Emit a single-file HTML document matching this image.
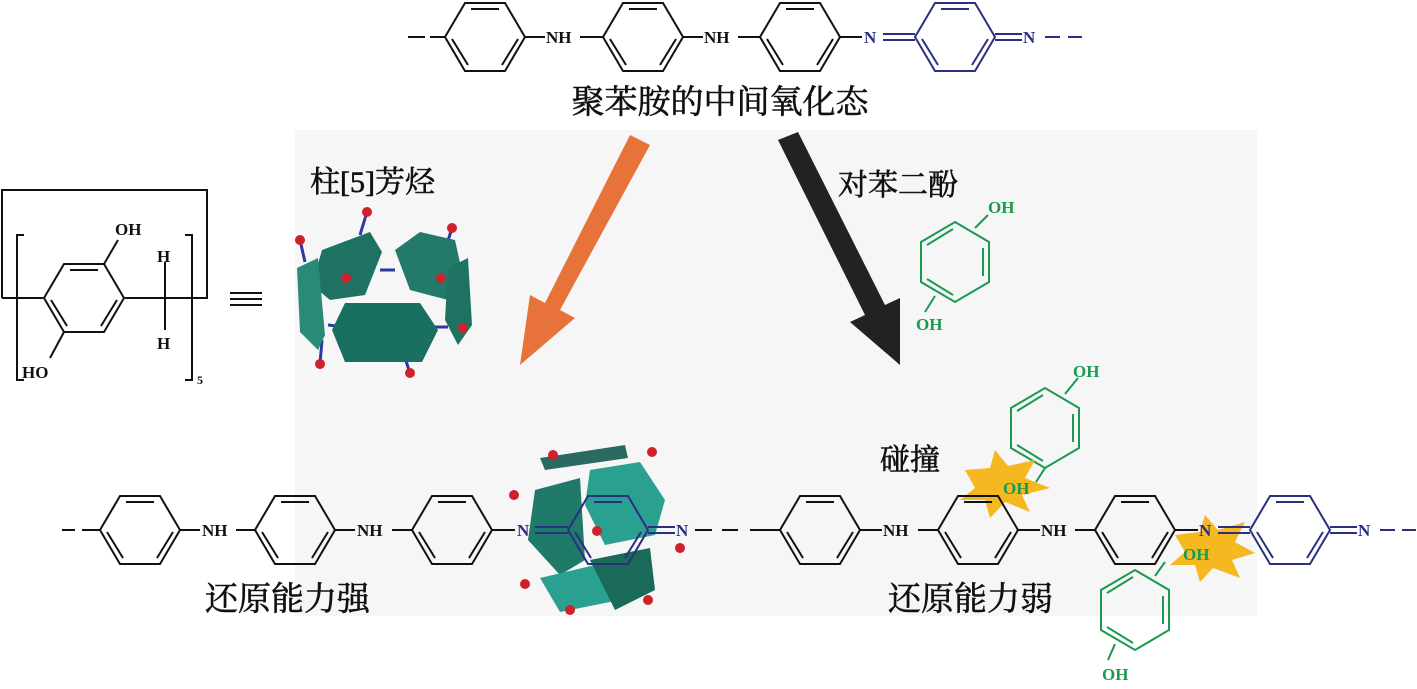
<!DOCTYPE html>
<html><head><meta charset="utf-8"><style>
body{margin:0;background:#fff;width:1417px;height:684px;overflow:hidden}
svg text{font-family:"Liberation Serif","Noto Serif CJK SC",serif}
</style></head><body>
<svg width="1417" height="684" viewBox="0 0 1417 684" xmlns="http://www.w3.org/2000/svg">
<defs>
<g id="ringH" fill="none" stroke-width="2">
<polygon points="-40,0 -20,-34 20,-34 40,0 20,34 -20,34"/>
<line x1="-14" y1="-28" x2="14" y2="-28"/>
<line x1="-33" y1="2" x2="-17" y2="28"/>
<line x1="33" y1="2" x2="17" y2="28"/>
</g>
<g id="ringV" fill="none" stroke-width="2">
<polygon points="0,-40 34,-20 34,20 0,40 -34,20 -34,-20"/>
<line x1="28" y1="-14" x2="28" y2="14"/>
<line x1="-2" y1="-33" x2="-28" y2="-17"/>
<line x1="-2" y1="33" x2="-28" y2="17"/>
</g>
</defs>
<rect x="295" y="130" width="962" height="486" fill="#f6f6f6"/>

<g stroke="#111">
<line x1="408" y1="37" x2="425" y2="37" stroke-width="2"/>
<line x1="430" y1="37" x2="445" y2="37" stroke-width="2"/>
<use href="#ringH" x="485" y="37"/>
<line x1="525" y1="37" x2="545" y2="37" stroke-width="2"/>
<line x1="580" y1="37" x2="603" y2="37" stroke-width="2"/>
<use href="#ringH" x="643" y="37"/>
<line x1="683" y1="37" x2="703" y2="37" stroke-width="2"/>
<line x1="738" y1="37" x2="760" y2="37" stroke-width="2"/>
<use href="#ringH" x="800" y="37"/>
<line x1="840" y1="37" x2="862" y2="37" stroke-width="2"/>
</g>
<g stroke="#2a2f80">
<use href="#ringH" x="955" y="37"/>
<line x1="883" y1="34" x2="915" y2="34" stroke-width="2"/>
<line x1="883" y1="40" x2="915" y2="40" stroke-width="2"/>
<line x1="995" y1="34" x2="1022" y2="34" stroke-width="2"/>
<line x1="995" y1="40" x2="1022" y2="40" stroke-width="2"/>
<line x1="1045" y1="37" x2="1060" y2="37" stroke-width="2"/>
<line x1="1068" y1="37" x2="1082" y2="37" stroke-width="2"/>
</g>
<g font-size="17" font-weight="bold">
<text x="546" y="43" fill="#111">NH</text>
<text x="704" y="43" fill="#111">NH</text>
<text x="864" y="43" fill="#2a2f80">N</text>
<text x="1023" y="43" fill="#2a2f80">N</text>
</g>
<text x="720" y="113" font-size="33" text-anchor="middle" fill="#111" stroke="#111" stroke-width="0.6">聚苯胺的中间氧化态</text>

<polygon points="630,135 650,145 560,310 575,318 520,365 530,295 545,303" fill="#e8733a"/>
<polygon points="778,140 798,132 885,305 900,298 900,365 850,322 865,315" fill="#222"/>

<g stroke="#111" stroke-width="2" fill="none">
<polyline points="2,298 2,190 207,190 207,298 125,298"/>
<line x1="2" y1="298" x2="43" y2="298"/>
<polyline points="24,235 17,235 17,380 24,380"/>
<polyline points="185,235 192,235 192,380 185,380"/>
<use href="#ringH" x="84" y="298"/>
<line x1="104" y1="264" x2="118" y2="240"/>
<line x1="64" y1="332" x2="50" y2="358"/>
<line x1="165" y1="262" x2="165" y2="330"/>
<line x1="230" y1="293" x2="262" y2="293"/>
<line x1="230" y1="299" x2="262" y2="299"/>
<line x1="230" y1="305" x2="262" y2="305"/>
</g>
<g font-size="17" font-weight="bold" fill="#111">
<text x="115" y="235">OH</text>
<text x="157" y="262">H</text>
<text x="157" y="349">H</text>
<text x="22" y="378">HO</text>
<text x="197" y="384" font-size="12">5</text>
</g>
<text x="310" y="192" font-size="30" fill="#111" stroke="#111" stroke-width="0.6">柱[5]芳烃</text>

<g stroke="#2a3aa0" stroke-width="3">
<line x1="367" y1="212" x2="360" y2="235"/><line x1="452" y1="228" x2="445" y2="250"/>
<line x1="300" y1="240" x2="305" y2="262"/><line x1="320" y1="364" x2="322" y2="340"/>
<line x1="410" y1="373" x2="405" y2="358"/><line x1="380" y1="270" x2="395" y2="270"/>
<line x1="328" y1="325" x2="345" y2="327"/><line x1="425" y1="327" x2="448" y2="327"/>
</g>
<g>
<polygon points="322,250 370,232 382,252 365,295 330,300 312,285" fill="#1e7262"/>
<polygon points="395,250 420,232 455,240 462,272 448,300 410,290" fill="#237a6a"/>
<polygon points="297,268 318,258 325,335 318,350 300,332" fill="#2a8a78"/>
<polygon points="448,268 468,258 472,325 458,345 445,320" fill="#1e7262"/>
<polygon points="345,303 420,303 438,330 422,362 345,362 332,330" fill="#1a7060"/>
</g>
<g fill="#d0202a">
<circle cx="367" cy="212" r="5"/><circle cx="452" cy="228" r="5"/><circle cx="300" cy="240" r="5"/>
<circle cx="346" cy="278" r="5"/><circle cx="441" cy="278" r="5"/><circle cx="320" cy="364" r="5"/>
<circle cx="410" cy="373" r="5"/><circle cx="463" cy="328" r="5"/>
</g>

<text x="838" y="195" font-size="30" fill="#111" stroke="#111" stroke-width="0.6">对苯二酚</text>
<g stroke="#1a9a50">
<use href="#ringV" x="955" y="262"/>
<line x1="975" y1="228" x2="988" y2="215" stroke-width="2"/>
<line x1="935" y1="296" x2="925" y2="312" stroke-width="2"/>
<use href="#ringV" x="1045" y="428"/>
<line x1="1065" y1="394" x2="1078" y2="378" stroke-width="2"/>
<line x1="1045" y1="468" x2="1036" y2="482" stroke-width="2"/>
<use href="#ringV" x="1135" y="610"/>
<line x1="1155" y1="576" x2="1165" y2="562" stroke-width="2"/>
<line x1="1115" y1="644" x2="1108" y2="660" stroke-width="2"/>
</g>

<polygon points="965,470 990,468 995,450 1008,466 1035,460 1025,478 1050,488 1022,495 1030,512 1005,502 990,518 985,500 960,500 975,488" fill="#f5b820"/>
<polygon points="1175,535 1200,532 1205,515 1218,530 1245,522 1235,542 1255,553 1232,560 1240,578 1213,568 1200,582 1195,565 1170,565 1185,552" fill="#f5b820"/>

<g font-size="17" font-weight="bold" fill="#1a9a50">
<text x="988" y="213">OH</text>
<text x="916" y="330">OH</text>
<text x="1073" y="377">OH</text>
<text x="1003" y="494">OH</text>
<text x="1183" y="560">OH</text>
<text x="1102" y="680">OH</text>
</g>
<text x="880" y="470" font-size="30" fill="#111" stroke="#111" stroke-width="0.6">碰撞</text>

<g stroke="#111">
<line x1="62" y1="530" x2="75" y2="530" stroke-width="2"/>
<line x1="82" y1="530" x2="100" y2="530" stroke-width="2"/>
<use href="#ringH" x="140" y="530"/>
<line x1="180" y1="530" x2="200" y2="530" stroke-width="2"/>
<line x1="236" y1="530" x2="255" y2="530" stroke-width="2"/>
<use href="#ringH" x="295" y="530"/>
<line x1="335" y1="530" x2="355" y2="530" stroke-width="2"/>
<line x1="392" y1="530" x2="412" y2="530" stroke-width="2"/>
<use href="#ringH" x="452" y="530"/>
<line x1="492" y1="530" x2="515" y2="530" stroke-width="2"/>
</g>
<g>
<polygon points="540,458 625,445 628,458 545,470" fill="#2a6a60"/>
<polygon points="535,490 580,478 585,560 560,575 528,540" fill="#1f7a6a"/>
<polygon points="590,470 640,462 665,500 655,535 605,545 585,505" fill="#2aa090"/>
<polygon points="540,578 595,565 620,600 560,612" fill="#2aa090"/>
<polygon points="590,560 650,548 655,590 615,610" fill="#1a6a5a"/>
</g>
<g stroke="#2a2f80">
<use href="#ringH" x="608" y="530"/>
<line x1="535" y1="527" x2="568" y2="527" stroke-width="2"/>
<line x1="535" y1="533" x2="568" y2="533" stroke-width="2"/>
<line x1="648" y1="527" x2="675" y2="527" stroke-width="2"/>
<line x1="648" y1="533" x2="675" y2="533" stroke-width="2"/>
</g>
<g stroke="#111" stroke-width="2">
<line x1="695" y1="530" x2="712" y2="530"/><line x1="722" y1="530" x2="738" y2="530"/><line x1="750" y1="530" x2="780" y2="530"/>
</g>
<g fill="#d0202a">
<circle cx="553" cy="455" r="5"/><circle cx="652" cy="452" r="5"/><circle cx="514" cy="495" r="5"/>
<circle cx="597" cy="531" r="5"/><circle cx="680" cy="548" r="5"/><circle cx="525" cy="584" r="5"/>
<circle cx="648" cy="600" r="5"/><circle cx="570" cy="610" r="5"/>
</g>
<g font-size="17" font-weight="bold">
<text x="202" y="536" fill="#111">NH</text>
<text x="357" y="536" fill="#111">NH</text>
<text x="517" y="536" fill="#2a2f80">N</text>
<text x="676" y="536" fill="#2a2f80">N</text>
</g>

<g stroke="#111">
<use href="#ringH" x="820" y="530"/>
<line x1="860" y1="530" x2="882" y2="530" stroke-width="2"/>
<line x1="918" y1="530" x2="938" y2="530" stroke-width="2"/>
<use href="#ringH" x="978" y="530"/>
<line x1="1018" y1="530" x2="1040" y2="530" stroke-width="2"/>
<line x1="1075" y1="530" x2="1095" y2="530" stroke-width="2"/>
<use href="#ringH" x="1135" y="530"/>
<line x1="1175" y1="530" x2="1198" y2="530" stroke-width="2"/>
</g>
<g stroke="#2a2f80">
<use href="#ringH" x="1290" y="530"/>
<line x1="1218" y1="527" x2="1250" y2="527" stroke-width="2"/>
<line x1="1218" y1="533" x2="1250" y2="533" stroke-width="2"/>
<line x1="1330" y1="527" x2="1357" y2="527" stroke-width="2"/>
<line x1="1330" y1="533" x2="1357" y2="533" stroke-width="2"/>
<line x1="1380" y1="530" x2="1395" y2="530" stroke-width="2"/>
<line x1="1402" y1="530" x2="1416" y2="530" stroke-width="2"/>
</g>
<g font-size="17" font-weight="bold">
<text x="883" y="536" fill="#111">NH</text>
<text x="1041" y="536" fill="#111">NH</text>
<text x="1199" y="536" fill="#2a2f80">N</text>
<text x="1358" y="536" fill="#2a2f80">N</text>
</g>

<text x="205" y="610" font-size="33" fill="#111" stroke="#111" stroke-width="0.6">还原能力强</text>
<text x="888" y="610" font-size="33" fill="#111" stroke="#111" stroke-width="0.6">还原能力弱</text>
</svg>
</body></html>
